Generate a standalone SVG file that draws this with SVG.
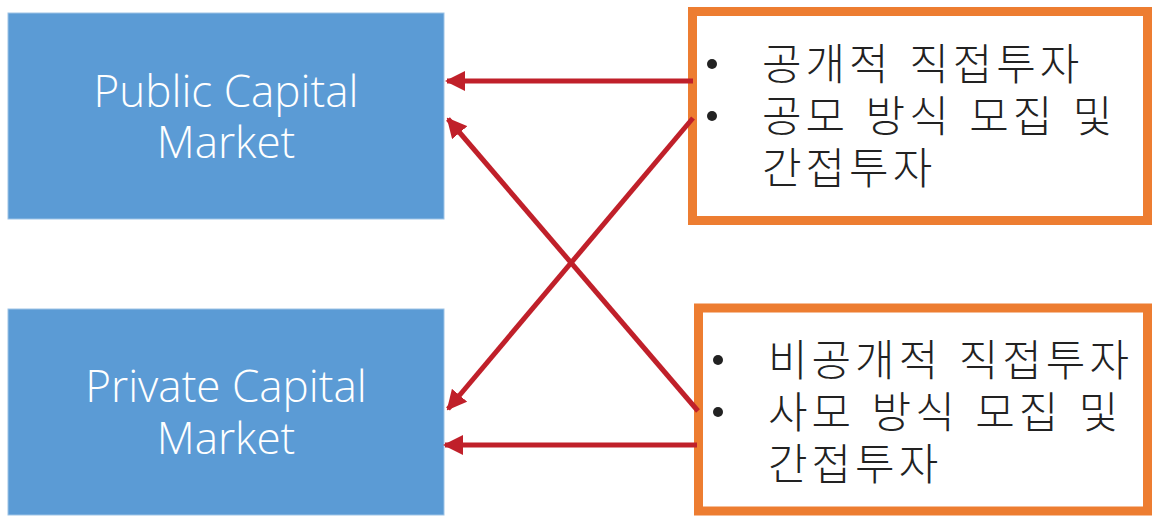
<svg xmlns="http://www.w3.org/2000/svg" width="1154" height="516" viewBox="0 0 1154 516">
<style>
.mkt{fill:#5B9BD5;stroke:#9DC3E6;stroke-width:1}
.mt{font-family:"Open Sans","Noto Sans",sans-serif;font-weight:300;font-size:44px;fill:#ffffff;text-anchor:middle}
.ob{fill:#ffffff;stroke:#ED7D31;stroke-width:9}
.kt{font-family:"Noto Sans CJK KR","Noto Sans",sans-serif;font-weight:300;font-size:43px;letter-spacing:4px;word-spacing:3px;fill:#222222}
.bl{fill:#222222}
.cn{stroke:#C0202A;stroke-width:5;fill:none;marker-end:url(#ah)}
</style>
<defs>
<marker id="ah" viewBox="0 0 10 10" refX="9" refY="5" markerWidth="4" markerHeight="4" orient="auto" markerUnits="strokeWidth">
<path d="M0,0 L10,5 L0,10 z" fill="#C0202A"/>
</marker>
</defs>
<g id="public-market">
<rect class="mkt" x="8" y="13" width="436" height="206"/>
<text class="mt" x="226" y="107">Public Capital</text>
<text class="mt" x="226" y="158">Market</text>
</g>
<g id="private-market">
<rect class="mkt" x="8" y="309" width="436" height="206"/>
<text class="mt" x="226" y="402">Private Capital</text>
<text class="mt" x="226" y="454">Market</text>
</g>
<g id="public-invest">
<rect class="ob" x="692.5" y="11.5" width="455" height="209"/>
<circle class="bl" cx="712" cy="64" r="5"/>
<circle class="bl" cx="712" cy="116" r="5"/>
<text class="kt" x="762" y="80">공개적 직접투자</text>
<text class="kt" x="762" y="132">공모 방식 모집 및</text>
<text class="kt" x="762" y="184">간접투자</text>
</g>
<g id="private-invest">
<rect class="ob" x="698.5" y="308" width="449" height="203"/>
<circle class="bl" cx="718" cy="360" r="5"/>
<circle class="bl" cx="718" cy="412" r="5"/>
<text class="kt" x="768" y="376">비공개적 직접투자</text>
<text class="kt" x="768" y="428">사모 방식 모집 및</text>
<text class="kt" x="768" y="480">간접투자</text>
</g>
<g id="connectors">
<line class="cn" x1="693" y1="81" x2="447" y2="81"/>
<line class="cn" x1="693" y1="118" x2="448" y2="409"/>
<line class="cn" x1="698" y1="411" x2="448" y2="119"/>
<line class="cn" x1="697" y1="445" x2="445" y2="445"/>
</g>
</svg>
